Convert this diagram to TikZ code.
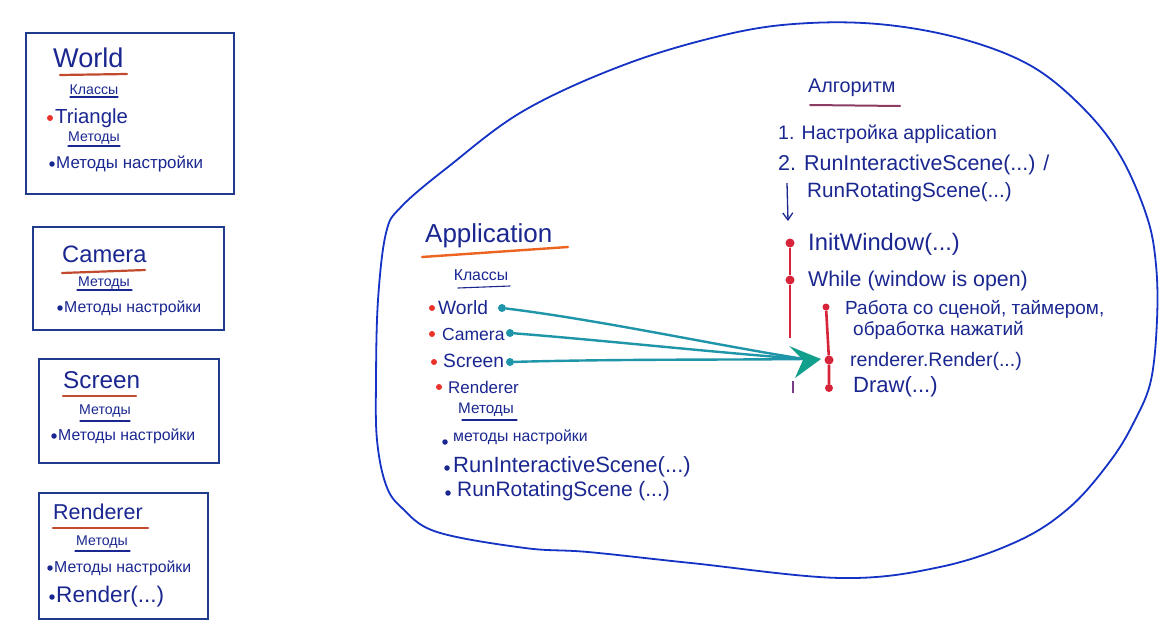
\documentclass[tikz,border=0pt]{standalone}
\usepackage{fontspec}
\setmainfont{Liberation Sans}
\usetikzlibrary{arrows.meta}
\definecolor{ink}{HTML}{1A2790}
\definecolor{boxc}{HTML}{203A8C}
\definecolor{blobc}{HTML}{1432C4}
\definecolor{ulred}{HTML}{C24A2E}
\definecolor{ulorange}{HTML}{EC6420}
\definecolor{ulmaroon}{HTML}{8A3C62}
\definecolor{dotred}{HTML}{E8322A}
\definecolor{tealln}{HTML}{1F95AA}
\definecolor{tealhd}{HTML}{12A08C}
\definecolor{redln}{HTML}{D8243A}
\definecolor{purpln}{HTML}{7A3A8A}
\newcommand{\fsz}[1]{\pgfmathsetmacro\fszv{#1*1.13}\fontsize{\fszv pt}{\fszv pt}\selectfont}
\begin{document}
\begin{tikzpicture}[x=1pt,y=-1pt,
  txt/.style={anchor=west, inner sep=0pt, text=ink},
  ctr/.style={anchor=center, inner sep=0pt, text=ink},
  cbox/.style={draw=boxc, line width=1.8pt, anchor=north west, inner sep=0pt},
  rdot/.style={circle, fill=dotred, inner sep=0pt, minimum size=6pt},
  bdot/.style={circle, fill=ink, inner sep=0pt, minimum size=5.5pt},
  tdot/.style={circle, fill=tealln, inner sep=0pt, minimum size=8pt},
  kdot/.style={circle, fill=redln, inner sep=0pt, minimum size=9pt},
  ulr/.style={draw=ulred, line width=2.2pt, line cap=round},
  ulb/.style={draw=ink, line width=1.1pt, line cap=round},
  tline/.style={draw=tealln, line width=2.4pt, line cap=round},
  rline/.style={draw=redln, line width=2.6pt},
]
\useasboundingbox[fill=white] (0,0) rectangle (1169,637);

% ---------- left boxes ----------
\node[cbox, minimum width=208pt, minimum height=161pt] (worldbox) at (25,32) {};
\node[txt, font=\fsz{24}] (worldt) at (53,58) {World};
\draw[ulr] (60,75) -- (127,74);
\node[ctr, font=\fsz{12.5}] (worldk) at (94,90) {Классы};
\draw[ulb] (70,97) -- (118,97);
\node[rdot] (worldd1) at (50,118) {};
\node[txt, font=\fsz{18}] (worldi1) at (55,118) {Triangle};
\node[ctr, font=\fsz{12.5}] (worldm) at (94,138) {Методы};
\draw[ulb] (68,146) -- (120,146);
\node[bdot] (worldd2) at (52,164) {};
\node[txt, font=\fsz{15}] (worldi2) at (56,164) {Методы настройки};

\node[cbox, minimum width=191pt, minimum height=103pt] (camerabox) at (32,226) {};
\node[txt, font=\fsz{21}] (camerat) at (62,254) {Camera};
\draw[ulr] (62,273) -- (145,270);
\node[ctr, font=\fsz{12.5}] (cameram) at (104,283) {Методы};
\draw[ulb] (77,290) -- (132,290);
\node[bdot] (camerad1) at (60,308) {};
\node[txt, font=\fsz{14}] (camerai1) at (64,308) {Методы настройки};

\node[cbox, minimum width=180pt, minimum height=104pt] (screenbox) at (38,358) {};
\node[txt, font=\fsz{21.5}] (screent) at (63,380) {Screen};
\draw[ulr] (63,396) -- (136,396);
\node[ctr, font=\fsz{12.5}] (screenm) at (105,411) {Методы};
\draw[ulb] (80,421) -- (130,421);
\node[bdot] (screend1) at (54,436) {};
\node[txt, font=\fsz{14}] (screeni1) at (58,436) {Методы настройки};

\node[cbox, minimum width=169pt, minimum height=126pt] (rendbox) at (38,492) {};
\node[txt, font=\fsz{19}] (rendt) at (53,512) {Renderer};
\draw[ulr] (53,528) -- (148,528);
\node[ctr, font=\fsz{12.5}] (rendm) at (102,542) {Методы};
\draw[ulb] (75,551) -- (130,551);
\node[bdot] (rendd1) at (50,568) {};
\node[txt, font=\fsz{14}] (rendi1) at (54,568) {Методы настройки};
\node[bdot] (rendd2) at (52,597) {};
\node[txt, font=\fsz{20}] (rendi2) at (56,597) {Render(...)};

% ---------- blob ----------
\draw[blobc, line width=1.8pt] plot[smooth cycle, tension=0.6] coordinates {
 (386,233) (401,207) (448,167) (525,110) (629,63) (733,33) (810,23) (888,25)
 (966,40) (1033,67) (1085,110) (1121,157) (1147,217) (1156,265) (1157,320)
 (1151,380) (1135,420) (1111,460) (1070,507) (1018,541) (940,567) (841,578)
 (691,563) (588,552) (525,548) (437,532) (402,508) (386,485)
 (377,440) (376,380) (378,300)};

% ---------- Application ----------
\node[txt, font=\fsz{23}] (appt) at (425,236) {Application};
\draw[draw=ulorange, line width=2.4pt, line cap=round] (422,257) -- (568,247);
\node[ctr, font=\fsz{14}] (appk) at (481,275) {Классы};
\draw[ulb] (458,288) -- (510,286);
\node[rdot] (appd1) at (432,308) {};
\node[txt, font=\fsz{17}] (appi1) at (438,308) {World};
\node[rdot] (appd2) at (432,334) {};
\node[txt, font=\fsz{15.5}] (appi2) at (442,334) {Camera};
\node[rdot] (appd3) at (434,362) {};
\node[txt, font=\fsz{17}] (appi3) at (443,361) {Screen};
\node[rdot] (appd4) at (439,387) {};
\node[txt, font=\fsz{15}] (appi4) at (448,387) {Renderer};
\node[ctr, font=\fsz{13.5}] (appm) at (486,410) {Методы};
\draw[ulb] (462,420) -- (517,420);
\node[bdot] (appd5) at (445,442) {};
\node[txt, font=\fsz{14}] (appi5) at (453,437) {методы настройки};
\node[bdot] (appd6) at (447,468) {};
\node[txt, font=\fsz{19.5}] (appi6) at (453,467) {RunInteractiveScene(...)};
\node[bdot] (appd7) at (448,493) {};
\node[txt, font=\fsz{18.5}] (appi7) at (457,491) {RunRotatingScene (...)};

\node[tdot] (tw) at (502,308) {};
\node[tdot] (tc) at (510,333) {};
\node[tdot] (ts) at (510,362) {};

% ---------- algorithm ----------
\node[txt, font=\fsz{17.5}] (algt) at (808,88) {Алгоритм};
\draw[draw=ulmaroon, line width=2pt, line cap=round] (810,105) -- (900,106);
\node[txt, font=\fsz{17.3}] (alg1) at (778,134) {1. Настройка application};
\node[txt, font=\fsz{19}] (alg2) at (778,165) {2. RunInteractiveScene(...) /};
\node[txt, font=\fsz{18.3}] (alg3) at (807,192) {RunRotatingScene(...)};
\coordinate (da1) at (787,183);
\coordinate (da2) at (788,221);
\draw[ink, line width=1.3pt, -{Straight Barb[length=7pt,width=10pt]}] (da1) -- (da2);

\node[kdot] (k1) at (790,243) {};
\node[kdot] (k2) at (790,280) {};
\coordinate (k1end) at (790,338);
\draw[rline] (k1) -- (k2) -- (k1end);
\coordinate (k1b) at (793,381);
\coordinate (k1c) at (793,393);
\draw[purpln, line width=1.8pt] (k1b) -- (k1c);
\node[txt, font=\fsz{21}] (alg4) at (808,244) {InitWindow(...)};
\node[txt, font=\fsz{18.9}] (alg5) at (808,281) {While (window is open)};

\node[kdot, minimum size=7pt] (k3) at (826,307) {};
\node[kdot] (k4) at (829,360) {};
\node[kdot, minimum size=8pt] (k5) at (829,388) {};
\draw[rline] (k3) -- (k4) -- (k5);
\node[txt, font=\fsz{16.8}] (alg6) at (845,309) {Работа со сценой, таймером,};
\node[txt, font=\fsz{16.8}] (alg7) at (853,330) {обработка нажатий};
\node[txt, font=\fsz{17.3}] (alg8) at (850,361) {renderer.Render(...)};
\node[txt, font=\fsz{19.5}] (alg9) at (853,387) {Draw(...)};

% ---------- teal connectors ----------
\coordinate (hb) at (804,359);
\coordinate (tip) at (821,359);
\draw[tline] (tw) .. controls (600,320) and (720,346) .. (hb);
\draw[tline] (tc) .. controls (600,340) and (720,353) .. (hb);
\draw[tline] (ts) .. controls (620,359) and (720,360) .. (hb);
\fill[tealhd] (789,346) -- (tip) -- (795,378) -- (803,360) -- cycle;
\end{tikzpicture}
\end{document}
